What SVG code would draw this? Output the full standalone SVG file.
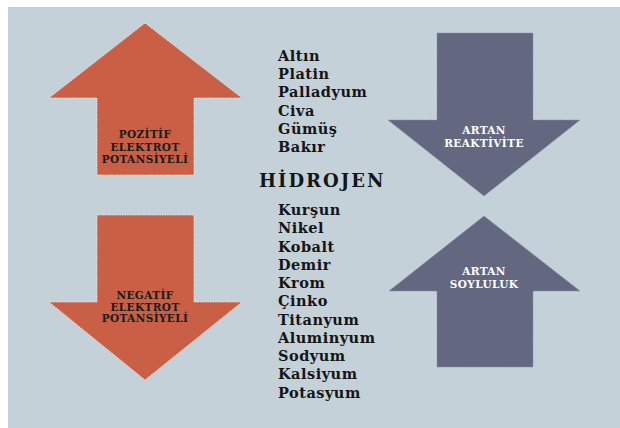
<svg xmlns="http://www.w3.org/2000/svg" width="620" height="428" viewBox="0 0 620 428">
<style>
.bg{fill:#c4d1d9}
.orange{fill:#c96045;stroke:#f2ece6;stroke-width:0.8;stroke-dasharray:1.5,1}
.slate{fill:#63677f;stroke:#8a90a4;stroke-width:0.8;stroke-dasharray:1.5,1}
.lbl{font-family:"DejaVu Serif","Liberation Serif",serif;font-weight:bold;font-size:10.5px;letter-spacing:0.4px;text-anchor:middle}
.dark{fill:#1a1a1a}
.light{fill:#ffffff}
.item{font-family:"DejaVu Serif","Liberation Serif",serif;font-weight:bold;font-size:14.5px;letter-spacing:0.5px;fill:#151515}
.h{font-family:"DejaVu Serif","Liberation Serif",serif;font-weight:bold;font-size:18px;letter-spacing:2px;fill:#151515}
</style>
<rect class="bg" x="8" y="7" width="612" height="421"/>
<g id="pozitif">
<polygon class="orange" points="145,23 242,98 194,98 194,175 97,175 97,98 49,98"/>
<text class="lbl dark" x="145" y="138">POZİTİF</text>
<text class="lbl dark" x="145" y="150.5">ELEKTROT</text>
<text class="lbl dark" x="145" y="163">POTANSİYELİ</text>
</g>
<g id="negatif">
<polygon class="orange" points="97,215 194,215 194,302 242,302 145,380 49,302 97,302"/>
<text class="lbl dark" x="145" y="299">NEGATİF</text>
<text class="lbl dark" x="145" y="310.5">ELEKTROT</text>
<text class="lbl dark" x="145" y="322">POTANSİYELİ</text>
</g>
<g id="reaktivite">
<polygon class="slate" points="437,33 533,33 533,120 580,120 484,196 388,120 437,120"/>
<text class="lbl light" x="484" y="134">ARTAN</text>
<text class="lbl light" x="484" y="147">REAKTİVİTE</text>
</g>
<g id="soyluluk">
<polygon class="slate" points="484,216 580,291 533,291 533,367 437,367 437,291 389,291"/>
<text class="lbl light" x="484" y="275">ARTAN</text>
<text class="lbl light" x="484" y="287.5">SOYLULUK</text>
</g>
<g id="metals">
<text class="item" x="278" y="61">Altın</text>
<text class="item" x="278" y="79">Platin</text>
<text class="item" x="278" y="97">Palladyum</text>
<text class="item" x="278" y="116">Civa</text>
<text class="item" x="278" y="134">Gümüş</text>
<text class="item" x="278" y="152">Bakır</text>
<text class="h" x="259" y="187">HİDROJEN</text>
<text class="item" x="278" y="215">Kurşun</text>
<text class="item" x="278" y="233">Nikel</text>
<text class="item" x="278" y="252">Kobalt</text>
<text class="item" x="278" y="270">Demir</text>
<text class="item" x="278" y="288">Krom</text>
<text class="item" x="278" y="306">Çinko</text>
<text class="item" x="278" y="325">Titanyum</text>
<text class="item" x="278" y="343">Aluminyum</text>
<text class="item" x="278" y="361">Sodyum</text>
<text class="item" x="278" y="379">Kalsiyum</text>
<text class="item" x="278" y="398">Potasyum</text>
</g>
<g id="connectors"></g>
</svg>
